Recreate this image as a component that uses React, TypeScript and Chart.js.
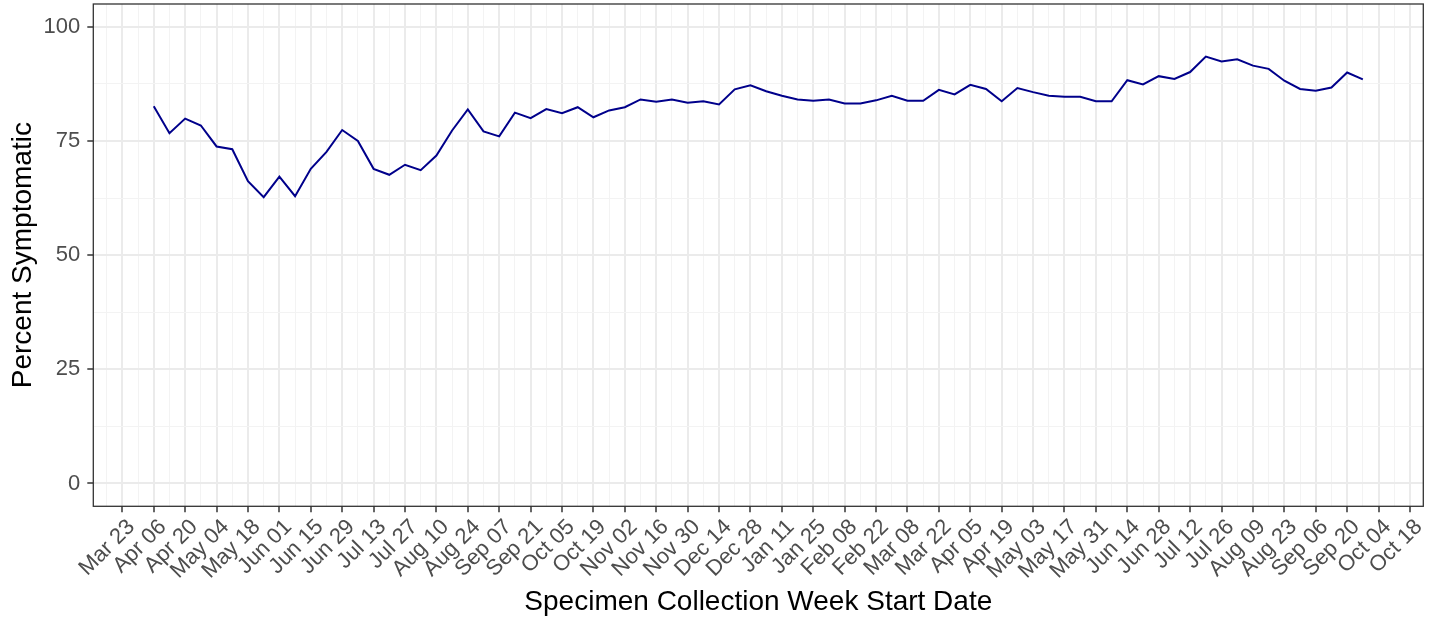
import React, { useEffect, useRef } from 'react';
import { Chart, registerables } from 'chart.js';

Chart.register(...registerables);

// ---- Data ----
const axisStartDate = '2020-03-23';

const weekStartDates = [
  '2020-04-06', '2020-04-13', '2020-04-20', '2020-04-27',
  '2020-05-04', '2020-05-11', '2020-05-18', '2020-05-25',
  '2020-06-01', '2020-06-08', '2020-06-15', '2020-06-22', '2020-06-29',
  '2020-07-06', '2020-07-13', '2020-07-20', '2020-07-27',
  '2020-08-03', '2020-08-10', '2020-08-17', '2020-08-24', '2020-08-31',
  '2020-09-07', '2020-09-14', '2020-09-21', '2020-09-28',
  '2020-10-05', '2020-10-12', '2020-10-19', '2020-10-26',
  '2020-11-02', '2020-11-09', '2020-11-16', '2020-11-23', '2020-11-30',
  '2020-12-07', '2020-12-14', '2020-12-21', '2020-12-28',
  '2021-01-04', '2021-01-11', '2021-01-18', '2021-01-25',
  '2021-02-01', '2021-02-08', '2021-02-15', '2021-02-22',
  '2021-03-01', '2021-03-08', '2021-03-15', '2021-03-22', '2021-03-29',
  '2021-04-05', '2021-04-12', '2021-04-19', '2021-04-26',
  '2021-05-03', '2021-05-10', '2021-05-17', '2021-05-24', '2021-05-31',
  '2021-06-07', '2021-06-14', '2021-06-21', '2021-06-28',
  '2021-07-05', '2021-07-12', '2021-07-19', '2021-07-26',
  '2021-08-02', '2021-08-09', '2021-08-16', '2021-08-23', '2021-08-30',
  '2021-09-06', '2021-09-13', '2021-09-20', '2021-09-27',
];

const percentSymptomatic = [
  82.6, 76.7, 79.9, 78.4, 73.8, 73.2, 66.2, 62.7, 67.2, 62.9,
  68.9, 72.6, 77.4, 75.0, 68.9, 67.6, 69.8, 68.6, 71.8, 77.3,
  81.9, 77.1, 76.0, 81.2, 80.0, 82.0, 81.1, 82.4, 80.2, 81.7,
  82.4, 84.1, 83.6, 84.1, 83.4, 83.7, 83.0, 86.3, 87.2, 85.9,
  84.9, 84.1, 83.8, 84.1, 83.2, 83.2, 83.9, 84.9, 83.8, 83.8,
  86.2, 85.2, 87.3, 86.4, 83.7, 86.6, 85.7, 84.9, 84.7, 84.7,
  83.7, 83.7, 88.3, 87.4, 89.2, 88.6, 90.1, 93.5, 92.4, 92.9,
  91.5, 90.8, 88.2, 86.4, 86.0, 86.7, 90.0, 88.5,
];

const xTickLabels = [
  'Mar 23', 'Apr 06', 'Apr 20', 'May 04', 'May 18', 'Jun 01', 'Jun 15',
  'Jun 29', 'Jul 13', 'Jul 27', 'Aug 10', 'Aug 24', 'Sep 07', 'Sep 21',
  'Oct 05', 'Oct 19', 'Nov 02', 'Nov 16', 'Nov 30', 'Dec 14', 'Dec 28',
  'Jan 11', 'Jan 25', 'Feb 08', 'Feb 22', 'Mar 08', 'Mar 22', 'Apr 05',
  'Apr 19', 'May 03', 'May 17', 'May 31', 'Jun 14', 'Jun 28', 'Jul 12',
  'Jul 26', 'Aug 09', 'Aug 23', 'Sep 06', 'Sep 20', 'Oct 04', 'Oct 18',
];

const yTickValues = [0, 25, 50, 75, 100];
const yMinorValues = [12.5, 37.5, 62.5, 87.5];
const yLimits = [0, 100];

const xTitle = 'Specimen Collection Week Start Date';
const yTitle = 'Percent Symptomatic';

// ---- Helpers ----
const WEEK_MS = 7 * 86400000;
const weeksFromStart = (d: string) =>
  Math.round((Date.parse(d + 'T00:00:00Z') - Date.parse(axisStartDate + 'T00:00:00Z')) / WEEK_MS);

const FONT = "'Liberation Sans', Arial, Helvetica, sans-serif";

const panelBorder = {
  id: 'panelBorder',
  afterDraw(chart: any) {
    const { ctx, chartArea: a } = chart;
    ctx.save();
    ctx.strokeStyle = '#333333';
    ctx.lineWidth = 1.3;
    ctx.strokeRect(a.left, a.top, a.right - a.left, a.bottom - a.top);
    ctx.restore();
  },
};

export default function App() {
  const ref = useRef<HTMLCanvasElement>(null);

  useEffect(() => {
    if (!ref.current) return;
    const points = weekStartDates.map((d, i) => ({ x: weeksFromStart(d), y: percentSymptomatic[i] }));
    const xs = points.map((p) => p.x);
    const x0 = Math.min(...xs);
    const x1 = Math.max(...xs);
    const xPad = (x1 - x0) * 0.05;
    const yPad = (yLimits[1] - yLimits[0]) * 0.05;

    const majorX = xTickLabels.map((_, i) => i * 2);
    const allX = [...majorX, ...majorX.map((v) => v - 1)].sort((a, b) => a - b);
    const allY = [...yTickValues, ...yMinorValues].sort((a, b) => a - b);
    const isMajorX = (v: number) => majorX.includes(v);
    const isMajorY = (v: number) => yTickValues.includes(v);

    const gridColor = (major: boolean) => (major ? '#ebebeb' : '#f3f3f3');

    const chart = new Chart(ref.current, {
      type: 'line',
      data: {
        datasets: [
          {
            data: points,
            borderColor: '#00008b',
            borderWidth: 2,
            pointRadius: 0,
            fill: false,
            tension: 0,
          },
        ],
      },
      options: {
        responsive: false,
        maintainAspectRatio: false,
        animation: false,
        layout: { padding: { top: 4, right: 16.7, bottom: 0, left: 0 } },
        plugins: { legend: { display: false }, tooltip: { enabled: false } },
        scales: {
          x: {
            type: 'linear',
            min: x0 - xPad,
            max: x1 + xPad,
            afterBuildTicks: (s: any) => {
              s.ticks = allX.map((v) => ({ value: v }));
            },
            afterFit: (s: any) => {
              s.height = 114.7;
              s.paddingLeft = 0;
              s.paddingRight = 0;
            },
            ticks: {
              autoSkip: false,
              minRotation: 45,
              maxRotation: 45,
              padding: 2,
              labelOffset: 9,
              color: '#4d4d4d',
              font: { family: FONT, size: 22 },
              callback: (v: any) => (isMajorX(v) ? xTickLabels[v / 2] : ''),
            },
            grid: {
              color: (c: any) => gridColor(isMajorX(c.tick?.value)),
              lineWidth: (c: any) => (isMajorX(c.tick?.value) ? 2 : 1),
              tickColor: (c: any) => (isMajorX(c.tick?.value) ? '#333333' : 'rgba(0,0,0,0)'),
              tickWidth: 1.5,
              tickLength: 6,
            },
            border: { display: false },
            title: {
              display: true,
              text: xTitle,
              color: '#000000',
              font: { family: FONT, size: 28 },
              padding: { top: 0, bottom: 2 },
            },
          },
          y: {
            type: 'linear',
            min: yLimits[0] - yPad,
            max: yLimits[1] + yPad,
            afterBuildTicks: (s: any) => {
              s.ticks = allY.map((v) => ({ value: v }));
            },
            afterFit: (s: any) => {
              s.width = 93.3;
              s.paddingTop = 0;
              s.paddingBottom = 0;
            },
            ticks: {
              autoSkip: false,
              padding: 7,
              color: '#4d4d4d',
              font: { family: FONT, size: 22 },
              callback: (v: any) => (isMajorY(v) ? String(v) : ''),
            },
            grid: {
              color: (c: any) => gridColor(isMajorY(c.tick?.value)),
              lineWidth: (c: any) => (isMajorY(c.tick?.value) ? 2 : 1),
              tickColor: (c: any) => (isMajorY(c.tick?.value) ? '#333333' : 'rgba(0,0,0,0)'),
              tickWidth: 1.5,
              tickLength: 6,
            },
            border: { display: false },
            title: {
              display: true,
              text: yTitle,
              color: '#000000',
              font: { family: FONT, size: 28 },
              padding: { top: 6, bottom: 0 },
            },
          },
        },
      },
      plugins: [panelBorder],
    } as any);

    return () => chart.destroy();
  }, []);

  return (
    <div style={{ position: 'fixed', left: 0, top: 0, width: 1440, height: 621, background: '#ffffff' }}>
      <canvas ref={ref} width={1440} height={621} style={{ display: 'block' }} />
    </div>
  );
}
